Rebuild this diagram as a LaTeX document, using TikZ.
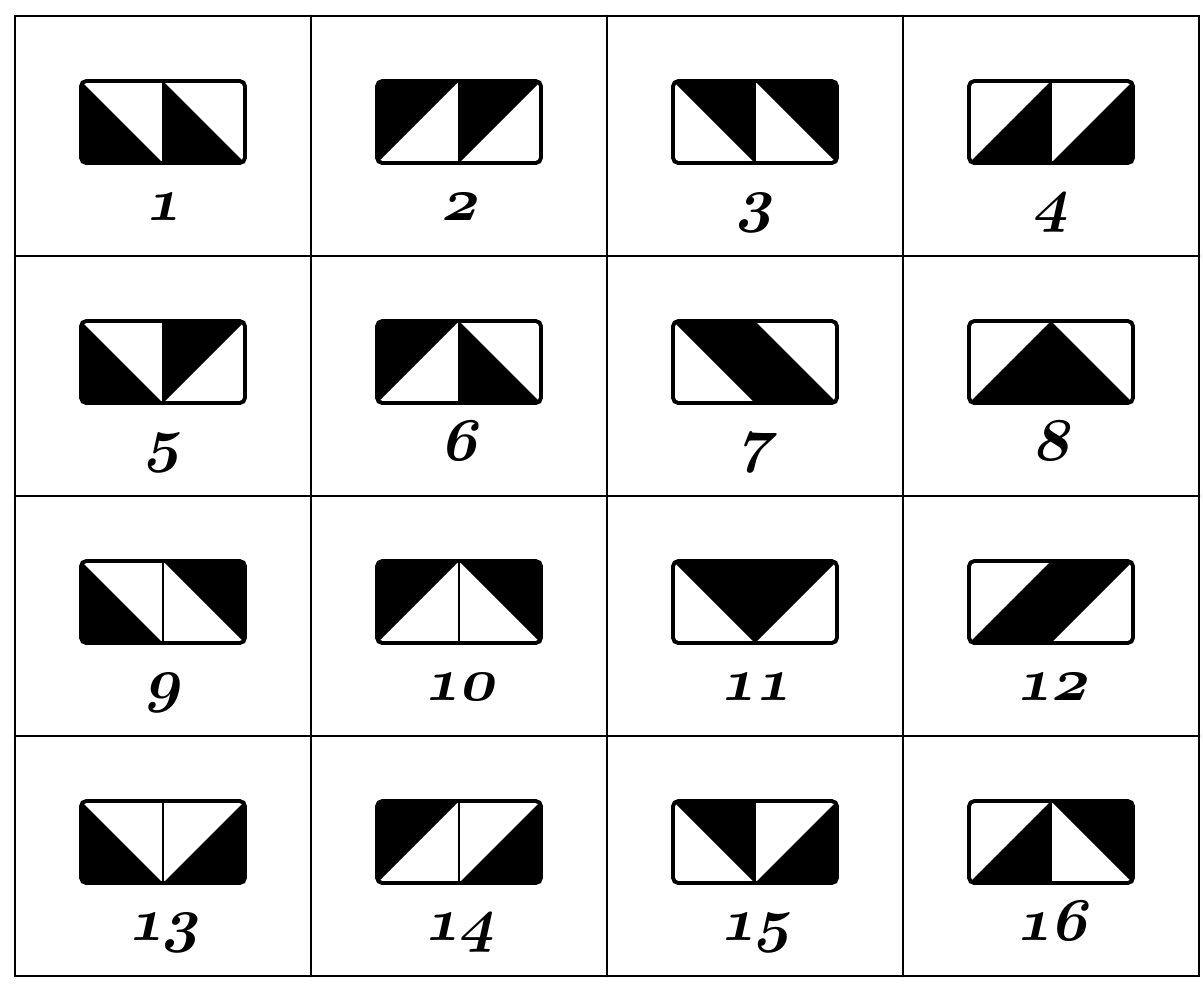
\documentclass[tikz,border=0pt]{standalone}
\usetikzlibrary{positioning}

\begin{document}
\begin{tikzpicture}[
  x=0.01cm, y=-0.01cm,
  frame/.style={line width=0.8pt, line cap=round},
  tile/.style={line width=1.1pt, rounded corners=1.5pt},
  half/.style={fill=black},
  midline/.style={line width=0.6pt},
  number/.style={anchor=base, xslant=0.22,
    font=\fontsize{16}{16}\usefont{OML}{cmm}{b}{it}}
]
\useasboundingbox (0,0) rectangle (1203,996);

% grid of cells
\draw[frame] (15,16) rectangle (1199,976);
\foreach \cx in {311,607,903} { \draw[frame] (\cx,16) -- (\cx,976); }
\foreach \cy in {256,496,736} { \draw[frame] (15,\cy) -- (1199,\cy); }

% tiles: number / black corner of left square / black corner of right square
% (u,v): 0/0 top left, 1/0 top right, 0/1 bottom left, 1/1 bottom right
\foreach \n/\ua/\va/\ub/\vb in {1/0/1/0/1, 2/0/0/0/0, 3/1/0/1/0, 4/1/1/1/1,
    5/0/1/0/0, 6/0/0/0/1, 7/1/0/0/1, 8/1/1/0/1,
    9/0/1/1/0, 10/0/0/1/0, 11/1/0/0/0, 12/1/1/0/0,
    13/0/1/1/1, 14/0/0/1/1, 15/1/0/1/1, 16/1/1/1/0} {
  \pgfmathtruncatemacro\trow{(\n-1)/4}
  \pgfmathtruncatemacro\tcol{\n-1-4*\trow}
  \pgfmathsetmacro\tx{81+296*\tcol}
  \pgfmathsetmacro\ty{81+240*\trow}
  \fill[half] ({\tx+82*\ua},{\ty+82*\va}) -- ({\tx+82*(1-\ua)},{\ty+82*\va})
    -- ({\tx+82*\ua},{\ty+82*(1-\va)}) -- cycle;
  \fill[half] ({\tx+82+82*\ub},{\ty+82*\vb}) -- ({\tx+82+82*(1-\ub)},{\ty+82*\vb})
    -- ({\tx+82+82*\ub},{\ty+82*(1-\vb)}) -- cycle;
  \draw[tile] (\tx,\ty) rectangle ++(164,82);
  \draw[midline] (\tx+82,\ty) -- ++(0,82);
  \node[number] (n\n) at (\tx+82,\ty+139) {\n};
}
\end{tikzpicture}
\end{document}
